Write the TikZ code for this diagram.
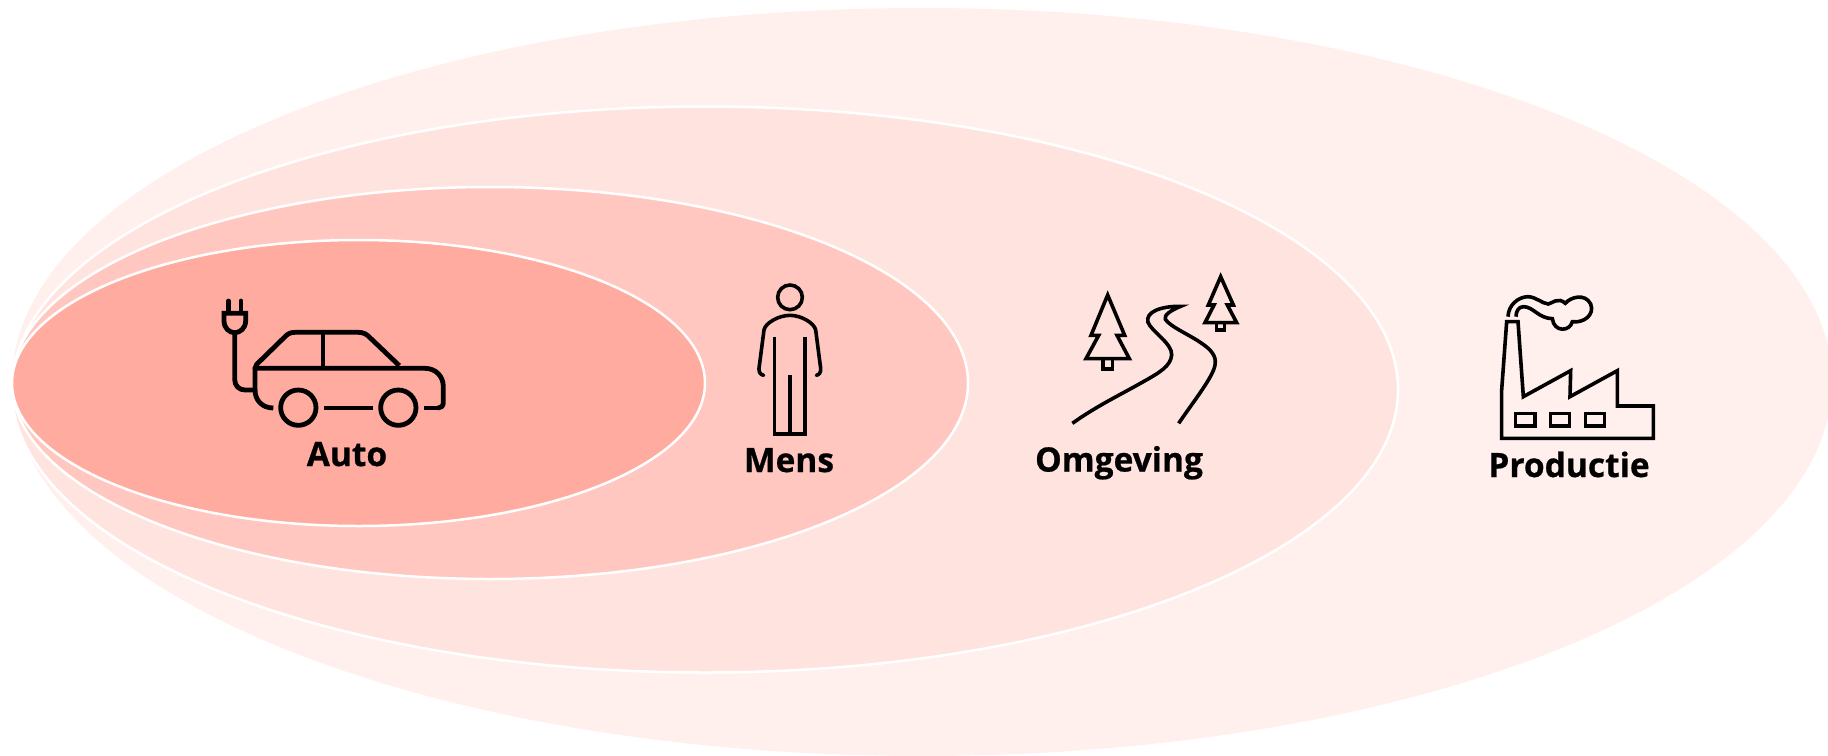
\documentclass[tikz,border=0pt]{standalone}
\usepackage{fontspec}
\setmainfont{Open Sans}[BoldFeatures={FakeBold=0.6}]
\definecolor{cauto}{HTML}{FFAB9F}
\definecolor{cmens}{HTML}{FFC7BF}
\definecolor{comg}{HTML}{FFE3DF}
\definecolor{cprod}{HTML}{FFF0ED}
\tikzset{
  ring/.style={draw=white,line width=2.5pt},
  icon/.style={draw=black,line join=miter},
  label/.style={font=\fontsize{33.5}{38}\selectfont\bfseries,text=black,inner sep=0pt,anchor=base},
  zoomed/.style={x=0.33333pt,y=-0.33333pt}
}
\begin{document}
\begin{tikzpicture}[x=1pt,y=-1pt]
\clip (0,0) rectangle (1828,755);
\fill[white] (0,0) rectangle (1828,755);
\fill[cprod] (922,382) ellipse [x radius=910,y radius=374];
\draw[ring,fill=comg] (705,389.5) ellipse [x radius=693,y radius=283];
\draw[ring,fill=cmens] (490,383) ellipse [x radius=478,y radius=196];
\draw[ring,fill=cauto] (358.5,383) ellipse [x radius=346.5,y radius=143];
% Car
\begin{scope}[shift={(190,270)},zoomed,icon,line width=4.8pt,line cap=round]
\draw (115,93)--(115,128) (153,93)--(153,128);
\draw (102,130)--(167,130)--(167,152) .. controls (167,175) and (150,188) .. (134,188) .. controls (118,188) and (102,175) .. (102,152) -- cycle;
\draw (134,188)--(134,328) .. controls (134,348) and (148,360) .. (165,360) -- (195,360);
\draw[line cap=butt] (250,414) .. controls (218,414) and (195,392) .. (195,360) -- (195,295) .. controls (195,290) and (197,287) .. (200,283) -- (280,205) .. controls (292,192) and (300,187) .. (315,187) -- (505,187) .. controls (520,187) and (530,192) .. (542,205) -- (628,287);
\draw (195,295) -- (705,295) .. controls (738,295) and (760,320) .. (760,350) -- (760,398) .. controls (760,408) and (752,414) .. (745,414);
\draw[line cap=butt] (745,414) -- (702,414) (403,414) -- (548,414) (399,187)--(399,295);
\draw (325,413) circle [radius=53];
\draw (625,413) circle [radius=53];
\end{scope}
% Person
\begin{scope}[shift={(720,270)},zoomed,icon,line width=3.6pt,line cap=round]
\draw (210,82) circle [radius=37];
\draw (131,316) .. controls (120,314) and (116,305) .. (117,295) -- (132,180) .. controls (135,160) and (175,136) .. (210,136) .. controls (245,136) and (283,160) .. (287,180) -- (302,295) .. controls (303,305) and (299,314) .. (289,316);
\draw[line cap=butt] (164,200) -- (164,492) -- (255,492) -- (255,200);
\draw[line cap=butt] (210,315) -- (210,492);
\end{scope}
% Landscape
\begin{scope}[shift={(1020,260)},zoomed,icon,line width=3.6pt]
\draw (263,105) -- (213,226) -- (236,226) -- (198,296) -- (328,296) -- (291,226) -- (314,226) -- cycle;
\draw (249,296) rectangle (277,327);
\draw (602,50) -- (565,135) -- (582,135) -- (555,188) -- (650,188) -- (622,135) -- (640,135) -- cycle;
\draw (590,188) rectangle (614,210);
\draw (157,490) .. controls (230,438) and (300,405) .. (370,365) .. controls (420,337) and (452,318) .. (455,285) .. controls (457,250) and (395,215) .. (384,187) .. controls (375,155) and (425,138) .. (482,139) .. controls (455,150) and (430,165) .. (436,178) .. controls (450,200) and (510,225) .. (545,250) .. controls (575,270) and (590,290) .. (585,315) .. controls (580,350) and (520,425) .. (476,490);
\end{scope}
% Factory
\begin{scope}[shift={(1480,280)},zoomed,icon,line width=3.6pt]
\draw (65,475)--(65,330)--(80,125)--(114,125)--(130,350)--(272,272)--(270,350)--(412,272)--(412,378)--(520,378)--(520,475)--cycle;
\draw (107,400) rectangle (165,438);
\draw (212,400) rectangle (268,438);
\draw (316,400) rectangle (373,438);
\draw (84,110) .. controls (85,75) and (115,50) .. (145,50) .. controls (170,52) and (185,70) .. (205,72) .. controls (215,70) and (235,50) .. (256,70) .. controls (270,52) and (315,38) .. (332,72) .. controls (345,105) and (310,130) .. (277,125) .. controls (270,155) and (222,158) .. (217,116) .. controls (175,115) and (160,80) .. (130,80) .. controls (115,80) and (108,95) .. (108,110);
\end{scope}
\node[label] (auto) at (347,466) {Auto};
\node[label] (mens) at (789,472) {Mens};
\node[label] (omg) at (1119,471.5) {Omgeving};
\node[label] (prod) at (1569,477) {Productie};
\end{tikzpicture}
\end{document}
